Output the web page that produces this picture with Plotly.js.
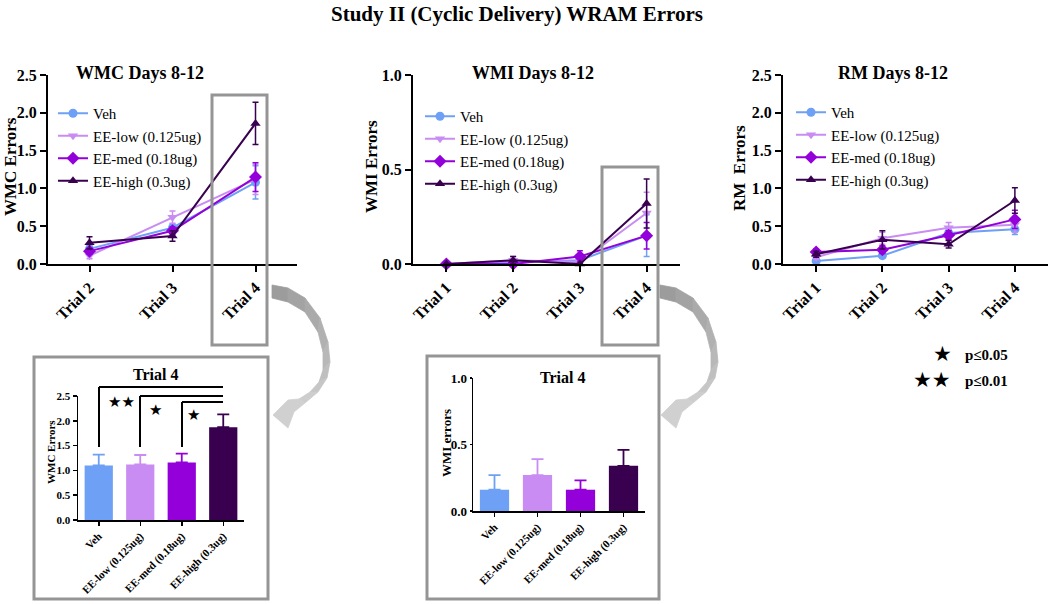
<!DOCTYPE html>
<html>
<head>
<meta charset="utf-8">
<script src="https://cdn.plot.ly/plotly-3.0.1.min.js"></script>
<style>html,body{margin:0;padding:0;background:#fff;}#chart{width:1050px;height:604px;}</style>
</head>
<body>
<div id="chart"></div>
<script>
// ---------- data ----------
const seriesNames = ['Veh', 'EE-low (0.125ug)', 'EE-med (0.18ug)', 'EE-high (0.3ug)'];
const wmcTrials = ['Trial 2', 'Trial 3', 'Trial 4'];
const allTrials = ['Trial 1', 'Trial 2', 'Trial 3', 'Trial 4'];

const wmcVeh = [0.20, 0.48, 1.08];   const wmcVehErr = [0.04, 0.05, 0.22];
const wmcLow = [0.11, 0.62, 1.12];   const wmcLowErr = [0.04, 0.08, 0.20];
const wmcMed = [0.17, 0.44, 1.15];   const wmcMedErr = [0.04, 0.05, 0.19];
const wmcHigh = [0.28, 0.37, 1.86];  const wmcHighErr = [0.08, 0.07, 0.28];

const wmiVeh = [0.00, 0.01, 0.02, 0.15];  const wmiVehErr = [0.00, 0.01, 0.02, 0.11];
const wmiLow = [0.00, 0.02, 0.01, 0.27];  const wmiLowErr = [0.00, 0.02, 0.01, 0.11];
const wmiMed = [0.00, 0.00, 0.04, 0.15];  const wmiMedErr = [0.00, 0.00, 0.03, 0.07];
const wmiHigh = [0.00, 0.02, 0.00, 0.32]; const wmiHighErr = [0.00, 0.02, 0.00, 0.13];

const rmVeh = [0.04, 0.11, 0.41, 0.46];  const rmVehErr = [0.02, 0.03, 0.05, 0.07];
const rmLow = [0.09, 0.34, 0.48, 0.52];  const rmLowErr = [0.03, 0.08, 0.07, 0.10];
const rmMed = [0.16, 0.19, 0.38, 0.59];  const rmMedErr = [0.04, 0.05, 0.06, 0.12];
const rmHigh = [0.13, 0.32, 0.26, 0.84]; const rmHighErr = [0.04, 0.12, 0.05, 0.17];

const barWmc = [1.10, 1.12, 1.16, 1.87]; const barWmcErr = [0.22, 0.19, 0.18, 0.26];
const barWmi = [0.16, 0.27, 0.16, 0.34]; const barWmiErr = [0.11, 0.12, 0.07, 0.12];

// ---------- styles ----------
const colors = ['#6ea0f5', '#c98cf2', '#9300da', '#38004f'];
const symbols = ['circle', 'triangle-down', 'diamond', 'triangle-up'];
const SERIF = 'Liberation Serif, Times New Roman, serif';
const W = 1050, H = 604;
const PX = x => x / W;
const PY = y => 1 - y / H;

const traces = [];
function addLines(xcats, vals, errs, xa, ya, leg) {
  for (let i = 0; i < 4; i++) {
    traces.push({
      type: 'scatter', mode: 'lines+markers',
      x: xcats, y: vals[i], name: seriesNames[i],
      xaxis: xa, yaxis: ya, legend: leg, cliponaxis: false,
      line: {color: colors[i], width: 2},
      marker: {color: colors[i], symbol: symbols[i], size: i === 2 ? 10 : 9},
      error_y: {type: 'data', array: errs[i], visible: true, color: colors[i], thickness: 1.5, width: 3}
    });
  }
}
addLines(wmcTrials, [wmcVeh, wmcLow, wmcMed, wmcHigh], [wmcVehErr, wmcLowErr, wmcMedErr, wmcHighErr], 'x', 'y', 'legend');
addLines(allTrials, [wmiVeh, wmiLow, wmiMed, wmiHigh], [wmiVehErr, wmiLowErr, wmiMedErr, wmiHighErr], 'x2', 'y2', 'legend2');
addLines(allTrials, [rmVeh, rmLow, rmMed, rmHigh], [rmVehErr, rmLowErr, rmMedErr, rmHighErr], 'x3', 'y3', 'legend3');

function addBars(vals, errs, xa, ya) {
  for (let i = 0; i < 4; i++) {
    traces.push({
      type: 'bar', x: [seriesNames[i]], y: [vals[i]], xaxis: xa, yaxis: ya, showlegend: false,
      marker: {color: colors[i], line: {width: 0}}, width: 0.68,
      error_y: {type: 'data', symmetric: false, array: [errs[i]], arrayminus: [0],
                visible: true, color: colors[i], thickness: 1.8, width: 6}
    });
  }
}
addBars(barWmc, barWmcErr, 'x4', 'y4');
addBars(barWmi, barWmiErr, 'x5', 'y5');

// ---------- axes ----------
function xax(dom, anchor, n, big) {
  return {
    domain: dom, anchor: anchor, type: 'category', range: [-0.5, n - 0.5],
    categoryorder: 'array', categoryarray: n === 3 ? wmcTrials : (big ? allTrials : seriesNames),
    showline: true, linecolor: '#000', linewidth: big ? 2 : 1.5, mirror: false,
    ticks: 'outside', ticklen: big ? 6 : 4, tickwidth: big ? 2 : 1.5, tickcolor: '#000',
    tickangle: -45, showgrid: false, zeroline: false, fixedrange: true,
    tickfont: {family: SERIF, size: big ? 16 : 11, color: '#000', weight: 'bold'}
  };
}
function yax(dom, anchor, max, big, fs, tl) {
  return {
    domain: dom, anchor: anchor, range: [0, max], dtick: 0.5, tickformat: '.1f',
    showline: true, linecolor: '#000', linewidth: big ? 2 : 1.5,
    ticks: 'outside', ticklen: tl, tickwidth: big ? 2 : 1.5, tickcolor: '#000',
    showgrid: false, zeroline: false, fixedrange: true,
    tickfont: {family: SERIF, size: fs, color: '#000', weight: 'bold'}
  };
}
const topY = [PY(264), PY(75)];

function legendAt(x, y) {
  return {x: PX(x), y: PY(y), xanchor: 'left', yanchor: 'top', bgcolor: 'rgba(0,0,0,0)',
          font: {family: SERIF, size: 15, color: '#000'}, itemwidth: 30, tracegroupgap: 0};
}

// ---------- annotations ----------
function txt(text, x, y, size, opts) {
  return Object.assign({text: text, x: PX(x), y: PY(y), xref: 'paper', yref: 'paper',
    xanchor: 'center', yanchor: 'middle', showarrow: false,
    font: {family: SERIF, size: size, color: '#000', weight: 'bold'}}, opts || {});
}
const STAR = s => ({family: 'DejaVu Sans', size: s, color: '#000'});
const annotations = [
  txt('Study II (Cyclic Delivery) WRAM Errors', 517, 14, 21),
  txt('WMC Days 8-12', 140, 73, 18),
  txt('WMI Days 8-12', 533, 73, 18),
  txt('RM Days 8-12', 893, 73, 18),
  txt('WMC Errors', 10, 167, 17, {textangle: -90}),
  txt('WMI Errors', 371, 167, 17, {textangle: -90}),
  txt('RM\u00a0 Errors', 739, 168, 17, {textangle: -90}),
  txt('Trial 4', 155, 374, 16),
  txt('Trial 4', 562, 377, 16),
  txt('WMC Errors', 51, 452, 11, {textangle: -90}),
  txt('WMI errors', 446, 443, 13, {textangle: -90}),
  txt('\u2605\u2605', 121, 402, 15, {font: STAR(15)}),
  txt('\u2605', 155, 410, 15, {font: STAR(15)}),
  txt('\u2605', 193, 415, 15, {font: STAR(15)}),
  txt('\u2605', 942, 354, 21, {font: STAR(21)}),
  txt('\u2605\u2605', 932, 380, 21, {font: STAR(21)}),
  txt('p\u22640.05', 963, 355, 15, {xanchor: 'left'}),
  txt('p\u22640.01', 963, 381, 15, {xanchor: 'left'})
];

// ---------- shapes ----------
function box(x0, y0, x1, y1) {
  return {type: 'rect', xref: 'paper', yref: 'paper', x0: PX(x0), x1: PX(x1), y0: PY(y1), y1: PY(y0),
          line: {color: '#959595', width: 3}, fillcolor: 'rgba(0,0,0,0)'};
}
function poly(pts, color, dx) {
  let d = '';
  pts.forEach((p, i) => { d += (i ? ' L' : 'M') + PX(p[0] + dx).toFixed(5) + ',' + PY(p[1]).toFixed(5); });
  return {type: 'path', xref: 'paper', yref: 'paper', path: d + ' Z', fillcolor: color,
          line: {color: color, width: 0.8}};
}
const arcOuter = [[272,285],[288,288],[305,298],[320,318],[328,342],[330,362],[327,378],[318,392],[305,403]];
const arcInner = [[272,298],[288,302],[305,312],[318,332],[323,352],[323,370],[319,382],[310,392],[299,399]];
const headPts = [[305,403],[294,412],[288,428],[273,415],[288,400],[299,399]];
function grayAt(t) {
  const v = Math.round(0x98 + t * (0xd0 - 0x98));
  return 'rgb(' + v + ',' + v + ',' + v + ')';
}
function arrowShapes(dx) {
  const out = [];
  const n = arcOuter.length - 1;
  for (let i = 0; i < n; i++) {
    out.push(poly([arcOuter[i], arcOuter[i + 1], arcInner[i + 1], arcInner[i]], grayAt((i + 0.5) / n), dx));
  }
  out.push(poly(headPts, grayAt(1), dx));
  return out;
}
function seg(x0, y0, x1, y1) {
  return {type: 'line', xref: 'paper', yref: 'paper', x0: PX(x0), y0: PY(y0), x1: PX(x1), y1: PY(y1),
          line: {color: '#000', width: 2}};
}
const shapes = [
  box(212, 95, 267, 345),
  box(34, 357, 268, 599),
  box(602, 167, 658, 345),
  box(427, 356, 659, 599),
  ...arrowShapes(0),
  ...arrowShapes(388),
  // significance brackets
  seg(99, 447, 99, 387), seg(99, 387, 223, 387),
  seg(140, 447, 140, 396), seg(140, 396, 223, 396),
  seg(182, 447, 182, 402), seg(182, 402, 223, 402)
];

const layout = {
  width: W, height: H, margin: {l: 0, r: 0, t: 0, b: 0},
  paper_bgcolor: '#fff', plot_bgcolor: 'rgba(0,0,0,0)',
  showlegend: true, barmode: 'overlay',
  font: {family: SERIF, color: '#000'},
  xaxis: xax([PX(48), PX(297)], 'y', 3, true),
  yaxis: yax(topY, 'x', 2.5, true, 16, 6),
  xaxis2: xax([PX(413), PX(680)], 'y2', 4, true),
  yaxis2: yax(topY, 'x2', 1.0, true, 16, 6),
  xaxis3: xax([PX(783), PX(1048)], 'y3', 4, true),
  yaxis3: yax(topY, 'x3', 2.5, true, 16, 6),
  xaxis4: xax([PX(78), PX(244)], 'y4', 4, false),
  yaxis4: yax([PY(520), PY(396)], 'x4', 2.5, false, 11, 4),
  xaxis5: xax([PX(473), PX(645)], 'y5', 4, false),
  yaxis5: yax([PY(511), PY(378)], 'x5', 1.0, false, 13, 2),
  legend: legendAt(53, 97),
  legend2: legendAt(420, 100),
  legend3: legendAt(791, 96),
  annotations: annotations,
  shapes: shapes
};

Plotly.newPlot('chart', traces, layout, {displayModeBar: false, staticPlot: true});
</script>
</body>
</html>
